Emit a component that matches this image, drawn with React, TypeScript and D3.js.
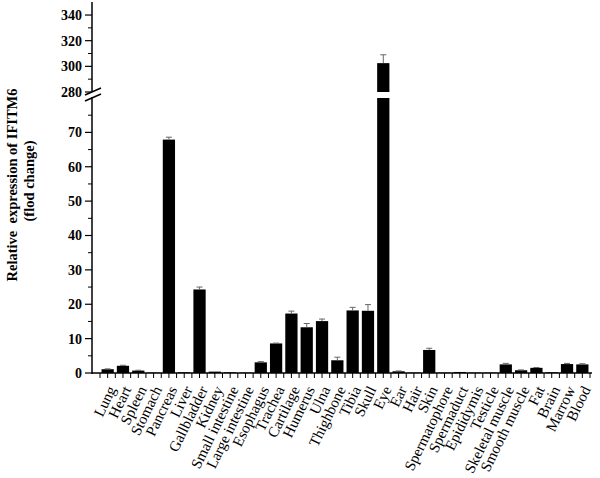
import React from "react";
import * as d3 from "d3";

const categories = [
  "Lung", "Heart", "Spleen", "Stomach", "Pancreas", "Liver", "Gallbladder", "Kidney",
  "Small intestine", "Large intestine", "Esophagus", "Trachea", "Cartilage", "Humerus",
  "Ulna", "Thighbone", "Tibia", "Skull", "Eye", "Ear", "Hair", "Skin", "Spermatophore",
  "Spermaduct", "Epididymis", "Testicle", "Skeletal muscle", "Smooth muscle", "Fat",
  "Brain", "Marrow", "Blood",
];
const values = [
  1.1, 2.1, 0.7, 0.1, 67.9, 0.2, 24.3, 0.4,
  0.2, 0.1, 3.1, 8.6, 17.3, 13.3,
  15.1, 3.7, 18.2, 18.1, 302.5, 0.5, 0.1, 6.7, 0.1,
  0.3, 0.1, 0.1, 2.5, 0.8, 1.5,
  0.2, 2.6, 2.5,
];
const errors = [
  0.1, 0.15, 0.1, 0, 0.7, 0, 0.7, 0,
  0, 0, 0.2, 0.1, 0.7, 1.1,
  0.6, 0.9, 0.9, 1.8, 6.5, 0.1, 0, 0.5, 0,
  0, 0, 0, 0.3, 0.1, 0.1,
  0, 0.2, 0.2,
];
const lowerTicks = [0, 10, 20, 30, 40, 50, 60, 70];
const lowerMinor = [5, 15, 25, 35, 45, 55, 65, 75];
const upperTicks = [280, 300, 320, 340];
const upperMinor = [290, 310, 330];
const yTitle1 = "Relative  expression of IFITM6";
const yTitle2 = "(flod change)";

const W = 600, H = 478;
const axisX = 92;
const baseY = 373;

export default function App() {
  const x = d3.scaleBand<string>().domain(categories).range([100, 590]).paddingInner(0.2).paddingOuter(0.1);
  const yLow = d3.scaleLinear().domain([0, 80]).range([baseY, 98]);
  const yUp = d3.scaleLinear().domain([280, 350]).range([92, 2.2]);
  const yv = (v: number) => (v <= 80 ? yLow(v) : yUp(v));
  const step = x.step();
  const font = "'Liberation Serif', 'Times New Roman', serif";

  const xTicks: number[] = [];
  categories.forEach((c) => {
    const cx = (x(c) as number) + x.bandwidth() / 2;
    xTicks.push(cx - step / 2, cx);
  });
  xTicks.push((x(categories[categories.length - 1]) as number) + x.bandwidth() / 2 + step / 2);

  return (
    <svg width={W} height={H} style={{ display: "block", position: "absolute", left: 0, top: 0 }}>
      <rect width={W} height={H} fill="#fff" />
      {/* bars */}
      {categories.map((c, i) => {
        const v = values[i];
        const bx = x(c) as number;
        const bw = x.bandwidth();
        const cx = bx + bw / 2;
        const e = errors[i];
        const rects =
          v <= 80 ? (
            <rect x={bx} y={yLow(v)} width={bw} height={baseY - yLow(v)} fill="#000" />
          ) : (
            <g>
              <rect x={bx} y={yLow(80)} width={bw} height={baseY - yLow(80)} fill="#000" />
              <rect x={bx} y={yUp(v)} width={bw} height={yUp(280) - yUp(v)} fill="#000" />
            </g>
          );
        return (
          <g key={c}>
            {rects}
            {e > 0 && (
              <g stroke="#666" strokeWidth={1}>
                <line x1={cx} x2={cx} y1={yv(v)} y2={yv(v + e)} />
                <line x1={cx - 3} x2={cx + 3} y1={yv(v + e)} y2={yv(v + e)} />
              </g>
            )}
          </g>
        );
      })}
      {/* x axis */}
      <line x1={axisX} x2={592} y1={baseY} y2={baseY} stroke="#000" strokeWidth={1.5} />
      {xTicks.map((t, i) => (
        <line key={i} x1={t} x2={t} y1={baseY} y2={baseY + 5} stroke="#000" strokeWidth={1} />
      ))}
      {categories.map((c) => {
        const cx = (x(c) as number) + x.bandwidth() / 2;
        return (
          <text
            key={c}
            transform={`translate(${cx + 4},${387}) rotate(-64)`}
            textAnchor="end"
            dy="0.35em"
            fontFamily={font}
            fontSize={15}
            fill="#000"
          >
            {c}
          </text>
        );
      })}
      {/* y axis */}
      <line x1={axisX} x2={axisX} y1={baseY + 1} y2={97} stroke="#000" strokeWidth={1.5} />
      <line x1={axisX} x2={axisX} y1={91} y2={2} stroke="#000" strokeWidth={1.5} />
      <line x1={85} y1={95} x2={101} y2={88} stroke="#000" strokeWidth={1.5} />
      <line x1={85} y1={101} x2={101} y2={94} stroke="#000" strokeWidth={1.5} />
      {lowerTicks.map((t) => (
        <g key={"l" + t}>
          <line x1={axisX - 7} x2={axisX} y1={yLow(t)} y2={yLow(t)} stroke="#000" strokeWidth={1.2} />
          <text x={axisX - 10} y={yLow(t)} dy="0.35em" textAnchor="end" fontFamily={font} fontWeight="bold" fontSize={14}>
            {t}
          </text>
        </g>
      ))}
      {lowerMinor.map((t) => (
        <line key={"lm" + t} x1={axisX - 4} x2={axisX} y1={yLow(t)} y2={yLow(t)} stroke="#000" strokeWidth={1} />
      ))}
      {upperTicks.map((t) => (
        <g key={"u" + t}>
          <line x1={axisX - 7} x2={axisX} y1={yUp(t)} y2={yUp(t)} stroke="#000" strokeWidth={1.2} />
          <text x={axisX - 10} y={yUp(t)} dy="0.35em" textAnchor="end" fontFamily={font} fontWeight="bold" fontSize={14}>
            {t}
          </text>
        </g>
      ))}
      {upperMinor.map((t) => (
        <line key={"um" + t} x1={axisX - 4} x2={axisX} y1={yUp(t)} y2={yUp(t)} stroke="#000" strokeWidth={1} />
      ))}
      {/* y title */}
      <text
        transform={`translate(17,185) rotate(-90)`}
        textAnchor="middle"
        fontFamily={font}
        fontWeight="bold"
        fontSize={14.5}
        style={{ whiteSpace: "pre" }}
      >
        {yTitle1}
      </text>
      <text
        transform={`translate(34,181) rotate(-90)`}
        textAnchor="middle"
        fontFamily={font}
        fontWeight="bold"
        fontSize={14.5}
      >
        {yTitle2}
      </text>
    </svg>
  );
}
